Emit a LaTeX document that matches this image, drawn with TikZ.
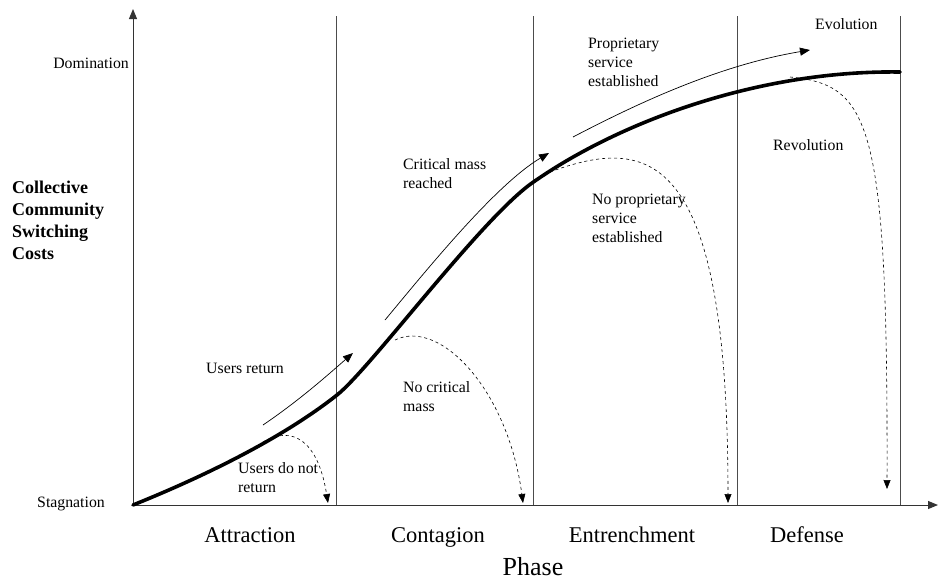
\documentclass[tikz,border=0pt]{standalone}
\usepackage{fontspec}
\setmainfont{Liberation Serif}
\usetikzlibrary{arrows.meta}

\begin{document}
\begin{tikzpicture}[x=1pt, y=-1pt, >={Triangle[length=10pt,width=8pt]},
    lbl/.style={font=\fontsize{15.8}{19}\selectfont, align=left, inner sep=0pt},
    phasename/.style={font=\fontsize{22.5}{27}\selectfont, inner sep=0pt, anchor=base},
    axis/.style={line width=1pt, black!80},
    divider/.style={line width=0.9pt, black!70},
    scurve/.style={line width=3.6pt, line cap=round},
    trend/.style={->, line width=0.7pt},
    drop/.style={dashed, ->, >={Triangle[length=9pt,width=7pt]}, line width=0.6pt}]
    \useasboundingbox (0,0) rectangle (940,579);

    % axes
    \coordinate (O) at (133,505);
    \coordinate (ytop) at (133,9);
    \coordinate (xend) at (938,505);
    \draw[axis, ->] (O) -- (ytop);
    \draw[axis, ->] (O) -- (xend);
    \foreach \x in {336,533,737,900}
        \draw[divider] (\x,16) -- (\x,505);

    % axis labels
    \node[lbl, anchor=east] (dom) at (129,63) {Domination};
    \node[lbl, anchor=east] (stag) at (105,504) {Stagnation};
    \node[anchor=west, align=left, inner sep=0pt, font=\bfseries\fontsize{18}{22}\selectfont] (costs) at (12,220) {Collective\\Community\\Switching\\Costs};

    % phases
    \node[phasename] (attr) at (250,542) {Attraction};
    \node[phasename] (cont) at (438,542) {Contagion};
    \node[phasename] (entr) at (632,542) {Entrenchment};
    \node[phasename] (defe) at (807,542) {Defense};
    \node[font=\fontsize{26}{30}\selectfont, inner sep=0pt, anchor=base] (phase) at (533,575) {Phase};

    % S-curve
    \coordinate (s1) at (337,395);
    \coordinate (s2) at (532,183);
    \coordinate (s3) at (900,72);
    \draw[scurve] (O) .. controls (200,478) and (280,440) .. (s1)
        .. controls (370,369) and (480,220) .. (s2)
        .. controls (620,121) and (760,70) .. (s3);

    % success paths
    \coordinate (ur1) at (263,425);
    \coordinate (ur2) at (353,353);
    \draw[trend] (ur1) .. controls (300,400) and (330,373) .. (ur2);
    \node[lbl, anchor=west] (ret) at (206,368) {Users return};

    \coordinate (cm1) at (385,320);
    \coordinate (cm2) at (549,153);
    \draw[trend] (cm1) .. controls (425,272) and (495,185) .. (cm2);
    \node[lbl, anchor=west] (crit) at (403,174) {Critical mass\\reached};

    \coordinate (ps1) at (573,137);
    \coordinate (ps2) at (810,50);
    \draw[trend] (ps1) .. controls (640,102) and (720,65) .. (ps2);
    \node[lbl, anchor=west] (prop) at (588,62) {Proprietary\\service\\established};
    \node[lbl, anchor=west] (evo) at (815,24) {Evolution};

    % failure paths
    \coordinate (nr1) at (263,442);
    \coordinate (nr2) at (328,503);
    \draw[drop] (nr1) .. controls (292,425) and (318,440) .. (nr2);
    \node[lbl, anchor=west] (noret) at (238,478) {Users do not\\return};

    \coordinate (nc1) at (395,340);
    \coordinate (nc2) at (523,503);
    \draw[drop] (nc1) .. controls (440,318) and (508,390) .. (nc2);
    \node[lbl, anchor=west] (nocrit) at (403,397) {No critical\\mass};

    \coordinate (np1) at (550,172);
    \coordinate (np2) at (728,503);
    \draw[drop] (np1) .. controls (650,135) and (728,150) .. (np2);
    \node[lbl, anchor=west] (noprop) at (592,218) {No proprietary\\service\\established};

    \coordinate (rv1) at (790,77);
    \coordinate (rv2) at (887,489);
    \draw[drop] (rv1) .. controls (870,85) and (888,120) .. (rv2);
    \node[lbl, anchor=west] (revo) at (773,145) {Revolution};
\end{tikzpicture}
\end{document}
